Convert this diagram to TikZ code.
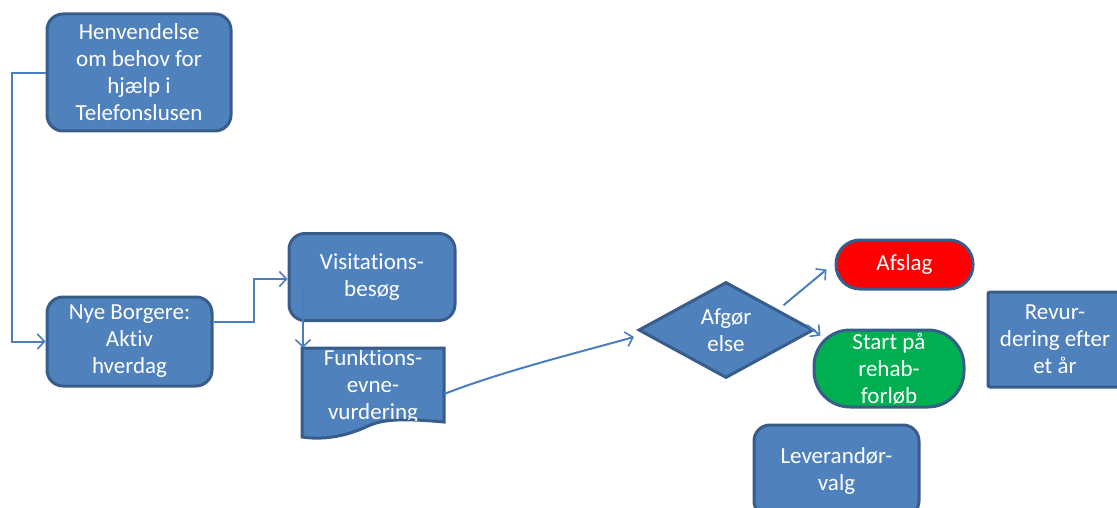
\documentclass[tikz,border=0pt]{standalone}
\usepackage{fontspec}
\setmainfont{Carlito}[Ligatures=NoCommon]
\usetikzlibrary{arrows.meta,shapes.geometric,calc}
\definecolor{boxfill}{HTML}{4F81BD}
\definecolor{boxline}{HTML}{385D8A}
\definecolor{connline}{HTML}{4A7EBF}
\definecolor{redfill}{HTML}{FF0000}
\definecolor{greenfill}{HTML}{00B050}
\tikzset{
  box/.style={draw=boxline, fill=boxfill, line width=3pt, text=white,
    align=center, inner sep=0pt, font=\fontsize{23}{27}\selectfont},
  rbox/.style={box, rectangle, rounded corners=16pt},
  conn/.style={draw=connline, line width=2pt, -{Straight Barb[length=7pt,width=15pt,line width=1.6pt]}},
}
\begin{document}
\begin{tikzpicture}[x=1pt,y=-1pt]
\useasboundingbox (0,0) rectangle (1117,508);
% nodes
\node[rbox, minimum width=184pt, minimum height=117pt] (henv) at (139,72.5)
  {Henvendelse\\om behov for\\hjælp i\\Telefonslusen};
\node[rbox, minimum width=165pt, minimum height=89pt] (nye) at (129.5,341.5)
  {Nye Borgere:\\Aktiv\\hverdag};
\node[rbox, minimum width=166pt, minimum height=87pt] (vis) at (372,277)
  {Visitations-\\besøg};
% document shape
\node[rectangle, minimum width=142pt, minimum height=90pt, inner sep=0pt] (funk) at (373,393) {};
\draw[draw=boxline, fill=boxfill, line width=3pt]
  (302,348) -- (444,348) -- (444,422)
  .. controls (410,419) and (385,418) .. (368,426)
  .. controls (345,437) and (322,440) .. (302,437) -- cycle;
\begin{scope}
  \clip (302,349.5) -- (444,349.5) -- (444,422)
    .. controls (410,419) and (385,418) .. (368,426)
    .. controls (345,437) and (322,440) .. (302,437) -- cycle;
  \node[text=white, align=center, font=\fontsize{23}{27}\selectfont] (funktxt) at (373,386)
    {Funktions-\\evne-\\vurdering};
\end{scope}
\node[box, diamond, minimum width=175pt, minimum height=96pt] (dia) at (726,330)
  {Afgør\\else};
\node[box, rectangle, rounded corners=24pt, fill=redfill, minimum width=137pt, minimum height=49pt] (afslag) at (904.5,264.5)
  {Afslag};
\node[box, rectangle, rounded corners=36pt, fill=greenfill, minimum width=150pt, minimum height=77pt] (start) at (889,368.5)
  {Start på\\rehab-\\forløb};
\node[box, rectangle, rounded corners=2pt, minimum width=134pt, minimum height=95pt] (revur) at (1055,339.5)
  {Revur-\\dering efter\\et år};
\node[rbox, minimum width=165pt, minimum height=92pt] (lev) at (836.5,471)
  {Leverandør-\\valg};
% connectors
\draw[conn] ([yshift=-1pt]henv.west) -- ++(-34,0) |- (nye.west);
\draw[conn] ([yshift=19.5pt]nye.east) -- ++(40,0) |- ([yshift=-2pt]vis.west);
\draw[conn] ([xshift=-70pt,yshift=-8pt]funk.north |- vis.center) -- ([xshift=-70pt]funk.north);
\draw[conn] ([yshift=-1pt]funk.east) .. controls (500,372) and (580,352) .. ([xshift=-3pt,yshift=-7pt]dia.west);
\draw[conn] ([xshift=13pt]dia.north east) -- ([xshift=-8pt,yshift=-5pt]afslag.west);
\draw[conn] ([xshift=-8pt,yshift=5pt]dia.east) -- ([xshift=8pt,yshift=-7pt]start.north west);
\end{tikzpicture}
\end{document}
